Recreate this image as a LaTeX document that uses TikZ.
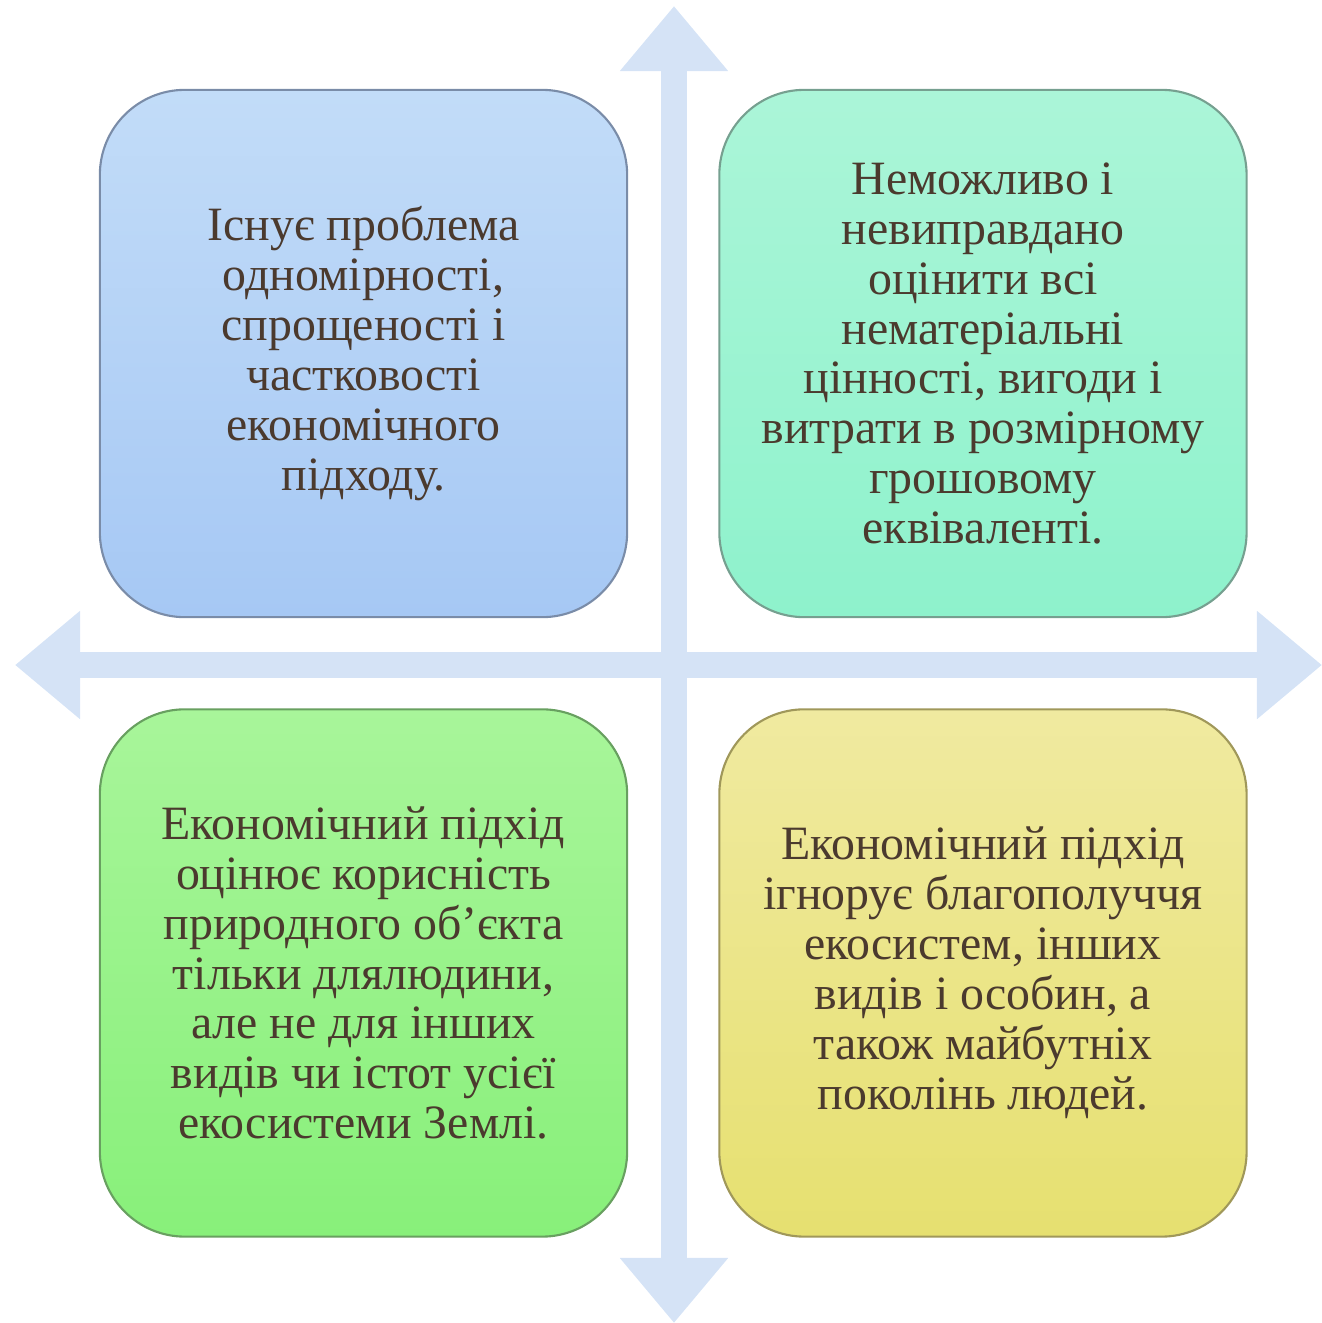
\documentclass[tikz,border=0pt]{standalone}
\usepackage{fontspec}
\setmainfont{Liberation Serif}
\usetikzlibrary{positioning,arrows.meta}
\definecolor{arrowblue}{HTML}{D5E3F6}
\definecolor{txtbrown}{HTML}{4B3A2E}
\begin{document}
\begin{tikzpicture}[x=0.01cm, y=-0.01cm, node distance=0.9cm,
	quad/.style={draw, line width=0.6pt, rounded corners=0.85cm, minimum width=5.27cm, minimum height=5.27cm,
		align=center, text=txtbrown, font=\fontsize{13.6}{14.2}\selectfont},
	axis/.style={arrowblue, line width=0.26cm, {Triangle[width=1.04cm,length=0.65cm]}-{Triangle[width=1.04cm,length=0.65cm]}}]
	\useasboundingbox (0,0) rectangle (1322,1323);
	\path (674,6) coordinate (N) (674,1323) coordinate (S) (15,665) coordinate (W) (1322,665) coordinate (E);
	\draw[axis] (N)--(S);
	\draw[axis] (W)--(E);
	\node[quad, draw={rgb,255:red,122;green,140;blue,168}, top color={rgb,255:red,194;green,220;blue,248}, bottom color={rgb,255:red,166;green,200;blue,244}] (A) at (363.5,353.5)
		{Існує проблема\\ одномірності,\\ спрощеності і\\ частковості\\ економічного\\ підходу.};
	\node[quad, right=of A, draw={rgb,255:red,118;green,160;blue,144}, top color={rgb,255:red,171;green,245;blue,216}, bottom color={rgb,255:red,142;green,242;blue,204}] (B)
		{Неможливо і\\ невиправдано\\ оцінити всі\\ нематеріальні\\ цінності, вигоди і\\ витрати в розмірному\\ грошовому\\ еквіваленті.};
	\node[quad, below=of A, draw={rgb,255:red,104;green,160;blue,96}, top color={rgb,255:red,168;green,245;blue,154}, bottom color={rgb,255:red,136;green,240;blue,122}] (C)
		{Економічний підхід\\ оцінює корисність\\ природного об’єкта\\ тільки длялюдини,\\ але не для інших\\ видів чи істот усієї\\ екосистеми Землі.};
	\node[quad, below=of B, draw={rgb,255:red,160;green,152;blue,90}, top color={rgb,255:red,240;green,234;blue,160}, bottom color={rgb,255:red,230;green,224;blue,112}] (D)
		{Економічний підхід\\ ігнорує благополуччя\\ екосистем, інших\\ видів і особин, а\\ також майбутніх\\ поколінь людей.};
\end{tikzpicture}
\end{document}
